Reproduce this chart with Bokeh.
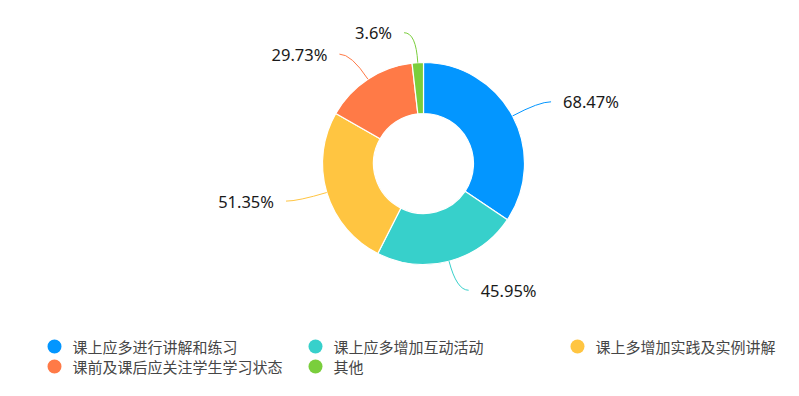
import math
from bokeh.plotting import figure
from bokeh.models import Range1d, ColumnDataSource
from bokeh.core.properties import value
from bokeh.embed import file_html
from bokeh.resources import INLINE

# ---- data ----
categories = ["课上应多进行讲解和练习", "课上应多增加互动活动", "课上多增加实践及实例讲解",
              "课前及课后应关注学生学习状态", "其他"]
values = [68.47, 45.95, 51.35, 29.73, 3.6]
colors = ["#0396FF", "#37D0CB", "#FFC541", "#FF7A47", "#7ACE3C"]

# ---- layout ----
W, H = 783, 380
cx, cy = 423, 217
r_in, r_out = 50, 101
L1, L2, gap = 30, 12, 12

total = sum(values)
starts, ends, mids = [], [], []
acc = 0.0
for v in values:
    a0 = acc / total * 2 * math.pi
    acc += v
    a1 = acc / total * 2 * math.pi
    starts.append(math.pi / 2 - a1)
    ends.append(math.pi / 2 - a0)
    mids.append((a0 + a1) / 2)

p = figure(width=W, height=H, x_range=Range1d(0, W), y_range=Range1d(0, H),
           toolbar_location=None, output_backend="svg", min_border=0)
p.axis.visible = False
p.grid.visible = False
p.outline_line_color = None
p.background_fill_color = "white"

src = ColumnDataSource(dict(start=starts, end=ends, color=colors))
p.annular_wedge(x=cx, y=cy, inner_radius=r_in, outer_radius=r_out,
                start_angle="start", end_angle="end", fill_color="color",
                line_color="white", line_width=1.2, source=src)

# leader lines and labels
x0s, y0s, x1s, y1s, cxs, cys, tx, ty, aligns, texts = [], [], [], [], [], [], [], [], [], []
for m, v in zip(mids, values):
    sx, sy = math.sin(m), math.cos(m)
    px0, py0 = cx + r_out * sx, cy + r_out * sy
    pcx, pcy = cx + (r_out + L1) * sx, cy + (r_out + L1) * sy
    side = 1 if sx >= 0 else -1
    px2, py2 = pcx + side * L2, pcy
    x0s.append(px0); y0s.append(py0)
    cxs.append(pcx); cys.append(pcy)
    x1s.append(px2); y1s.append(py2)
    tx.append(px2 + side * gap); ty.append(py2)
    aligns.append("left" if side > 0 else "right")
    texts.append(f"{v:g}%")

lsrc = ColumnDataSource(dict(x0=x0s, y0=y0s, x1=x1s, y1=y1s, cx=cxs, cy=cys, color=colors))
p.quadratic(x0="x0", y0="y0", x1="x1", y1="y1", cx="cx", cy="cy",
            line_color="color", line_width=1, source=lsrc)

tsrc = ColumnDataSource(dict(x=tx, y=ty, t=texts, a=aligns))
p.text(x="x", y="y", text="t", text_align="a", text_baseline="middle",
       text_font=value("Noto Sans"), text_font_size="16.5px", text_color="#1a1a1a",
       source=tsrc)

# legend
leg_col_x = [54, 315, 577]
leg_row_y = [34, 14]
lx, ly = [], []
for i in range(len(categories)):
    lx.append(leg_col_x[i % 3])
    ly.append(leg_row_y[i // 3])
p.scatter(x=lx, y=ly, size=14, marker="circle", fill_color=colors, line_color=None)
p.text(x=[x + 18 for x in lx], y=ly, text=categories, text_baseline="middle",
       text_align="left", text_font=value("Noto Sans CJK SC"), text_font_size="15px",
       text_color="#464646")

open("out.html", "w").write(file_html(p, INLINE))
